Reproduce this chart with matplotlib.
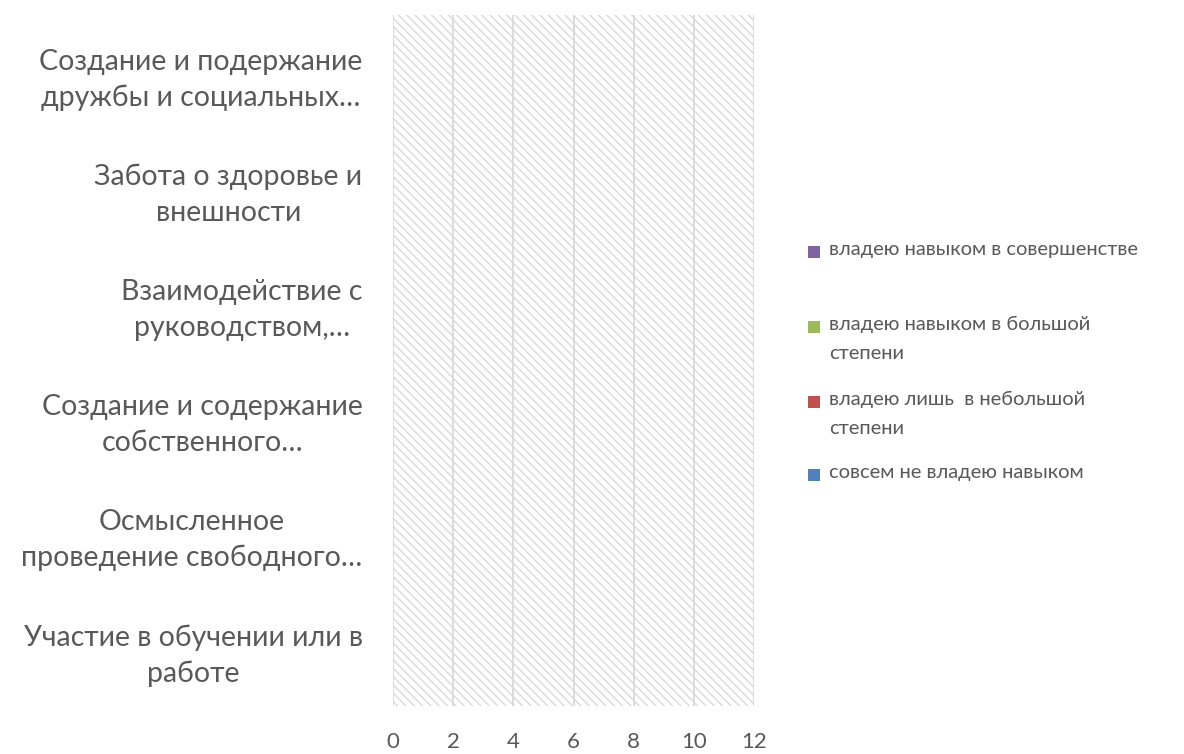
import matplotlib.pyplot as plt
from matplotlib.patches import Rectangle

# categories bottom -> top
categories = ["Участие в обучении или в\nработе",
              "Осмысленное\nпроведение свободного…",
              "Создание и содержание\nсобственного…",
              "Взаимодействие с\nруководством,…",
              "Забота о здоровье и\nвнешности",
              "Создание и подержание\nдружбы и социальных…"]

series = ["совсем не владею навыком",
          "владею лишь  в небольшой\nстепени",
          "владею навыком в большой\nстепени",
          "владею навыком в совершенстве"]
colors = ["#4f81bd", "#c0504d", "#9bbb59", "#8064a2"]

# all answers are empty in the source chart
values = [[0, 0, 0, 0, 0, 0],
          [0, 0, 0, 0, 0, 0],
          [0, 0, 0, 0, 0, 0],
          [0, 0, 0, 0, 0, 0]]

xticks = [0, 2, 4, 6, 8, 10, 12]

plt.rcParams['font.family'] = ['Lato', 'DejaVu Sans']
plt.rcParams['hatch.linewidth'] = 1.0

fig = plt.figure(figsize=(11.84, 7.54), dpi=100)
ax = fig.add_axes([0.332, 0.064, 0.305, 0.916])

# hatched plot background
ax.add_patch(Rectangle((0, 0), 1, 1, transform=ax.transAxes, facecolor='white',
                       edgecolor='#d9d9d9', hatch='\\\\\\\\', linewidth=0, zorder=0))

pos = list(range(len(categories)))
left = [0] * len(categories)
for name, vals, c in zip(series, values, colors):
    ax.barh(pos, vals, left=left, color=c, height=0.6, zorder=3)
    left = [l + v for l, v in zip(left, vals)]

ax.set_xlim(0, 12)
ax.set_ylim(-0.5, len(categories) - 0.5)
ax.set_xticks(xticks)
ax.set_yticks(pos)
ax.set_yticklabels(categories, fontsize=20.5, color='#595959',
                   multialignment='center', linespacing=1.45)
ax.tick_params(axis='x', length=0, pad=19, labelsize=16, labelcolor='#595959')
ax.tick_params(axis='y', length=0, pad=22)
ax.grid(axis='x', color='#d9d9d9', linewidth=1.3, zorder=1)
ax.set_axisbelow(True)
for s in ax.spines.values():
    s.set_visible(False)

# legend, drawn in Excel order (reversed)
leg_y = [252, 327, 402, 475]
for (name, c), y in zip(list(zip(series, colors))[::-1], leg_y):
    fy = 1 - y / 754
    fig.patches.append(Rectangle((808 / 1184, fy - 6 / 754), 12 / 1184, 12 / 754,
                                 transform=fig.transFigure, facecolor=c, edgecolor='none'))
    fig.text(829 / 1184, fy + 11 / 754, name, fontsize=14.5, color='#595959',
             va='top', ha='left', linespacing=1.85)

fig.savefig("out.png", dpi=100)
